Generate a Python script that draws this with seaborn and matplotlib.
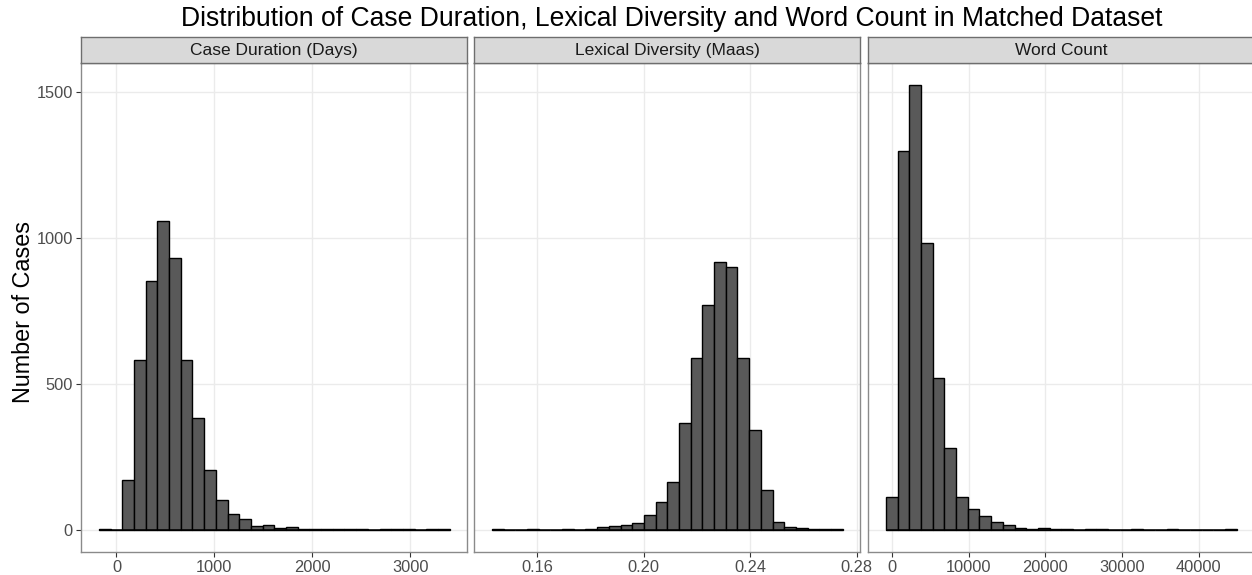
import numpy as np
import pandas as pd
import matplotlib
matplotlib.use("Agg")
import matplotlib.pyplot as plt
import seaborn as sns

sns.set_style("white")
plt.rcParams['font.family'] = ['Liberation Sans', 'DejaVu Sans']

# panel titles
panels = ['Case Duration (Days)', 'Lexical Diversity (Maas)', 'Word Count']

# 30 bins per panel: outer bin edges (lo, hi) and counts
duration_range = (-180, 3405)
duration_counts = [1, 0, 171, 580, 853, 1058, 931, 580, 381, 204, 103, 54, 37, 11, 14,
                   6, 9, 3, 2, 1, 1, 2, 1, 0, 1, 1, 2, 0, 1, 1]

maas_range = (0.1429, 0.2747)
maas_counts = [1, 0, 0, 1, 0, 0, 1, 0, 3, 8, 11, 15, 22, 50, 95,
               163, 364, 587, 769, 916, 901, 587, 341, 137, 26, 8, 4, 3, 1, 2]

words_range = (-780, 44954)
words_counts = [112, 1298, 1523, 981, 519, 280, 113, 70, 47, 25, 15, 6, 3, 4, 3,
                2, 0, 1, 1, 0, 0, 1, 0, 0, 1, 0, 0, 0, 0, 1]

x_ticks = [[0, 1000, 2000, 3000],
           [0.16, 0.20, 0.24, 0.28],
           [0, 10000, 20000, 30000, 40000]]
x_ticklabels = [['0', '1000', '2000', '3000'],
                ['0.16', '0.20', '0.24', '0.28'],
                ['0', '10000', '20000', '30000', '40000']]
y_ticks = [0, 500, 1000, 1500]

ranges = [duration_range, maas_range, words_range]
counts = [duration_counts, maas_counts, words_counts]

W, H = 1252, 575
fig = plt.figure(figsize=(W / 100, H / 100), dpi=100)

panel_left = [81.3, 474.3, 868.3]
panel_w = 386.0
panel_top, panel_bot = 63.3, 551.7
strip_top = 37.3

grid_col = '#EBEBEB'
border_col = '#8A8A8A'

for i in range(3):
    l = panel_left[i] / W
    b = (H - panel_bot) / H
    ax = fig.add_axes([l, b, panel_w / W, (panel_bot - panel_top) / H])

    lo, hi = ranges[i]
    edges = np.linspace(lo, hi, 31).tolist()
    df = pd.DataFrame({'x': [(edges[k] + edges[k + 1]) / 2 for k in range(30)],
                       'n': counts[i]})
    sns.histplot(data=df, x='x', weights='n', bins=edges, ax=ax,
                 color='#595959', edgecolor='black', linewidth=1.0, alpha=1.0)
    # empty bins show up as a flat line at zero, like ggplot does
    ax.hlines(0, edges[0], edges[-1], color='black', linewidth=1.1, zorder=4)

    pad = (hi - lo) * 0.05
    ax.set_xlim(lo - pad, hi + pad)
    ax.set_ylim(-76, 1599)
    ax.set_xticks(x_ticks[i])
    ax.set_xticklabels(x_ticklabels[i])
    ax.set_yticks(y_ticks)
    ax.grid(True, color=grid_col, linewidth=1.0)
    ax.set_axisbelow(True)
    ax.set_xlabel('')
    ax.set_ylabel('')
    for s in ax.spines.values():
        s.set_color(border_col)
        s.set_linewidth(1.0)
    ax.tick_params(axis='x', length=3.8, width=0.8, color='#333333', pad=2.2,
                   labelsize=11.8, labelcolor='#4D4D4D', bottom=True)
    if i == 0:
        ax.tick_params(axis='y', length=3.8, width=0.8, color='#333333', pad=2.2,
                       labelsize=11.8, labelcolor='#4D4D4D', left=True)
    else:
        ax.tick_params(axis='y', left=False, labelleft=False)

    # facet strip
    sax = fig.add_axes([l, (H - panel_top) / H, panel_w / W, (panel_top - strip_top) / H])
    sax.set_facecolor('#D9D9D9')
    sax.set_xticks([])
    sax.set_yticks([])
    for s in sax.spines.values():
        s.set_color('#6E6E6E')
        s.set_linewidth(1.0)
    sax.text(0.5, 0.5, panels[i], ha='center', va='center', fontsize=12.5,
             color='#1A1A1A', transform=sax.transAxes)

fig.text(671.5 / W, 1 - 26.3 / H,
         'Distribution of Case Duration, Lexical Diversity and Word Count in Matched Dataset',
         ha='center', va='baseline', fontsize=19.1, color='black')
fig.text(24 / W, 1 - 312 / H, 'Number of Cases', rotation=90,
         ha='center', va='center', fontsize=16.8, color='black')

fig.savefig('out.png', dpi=100)
